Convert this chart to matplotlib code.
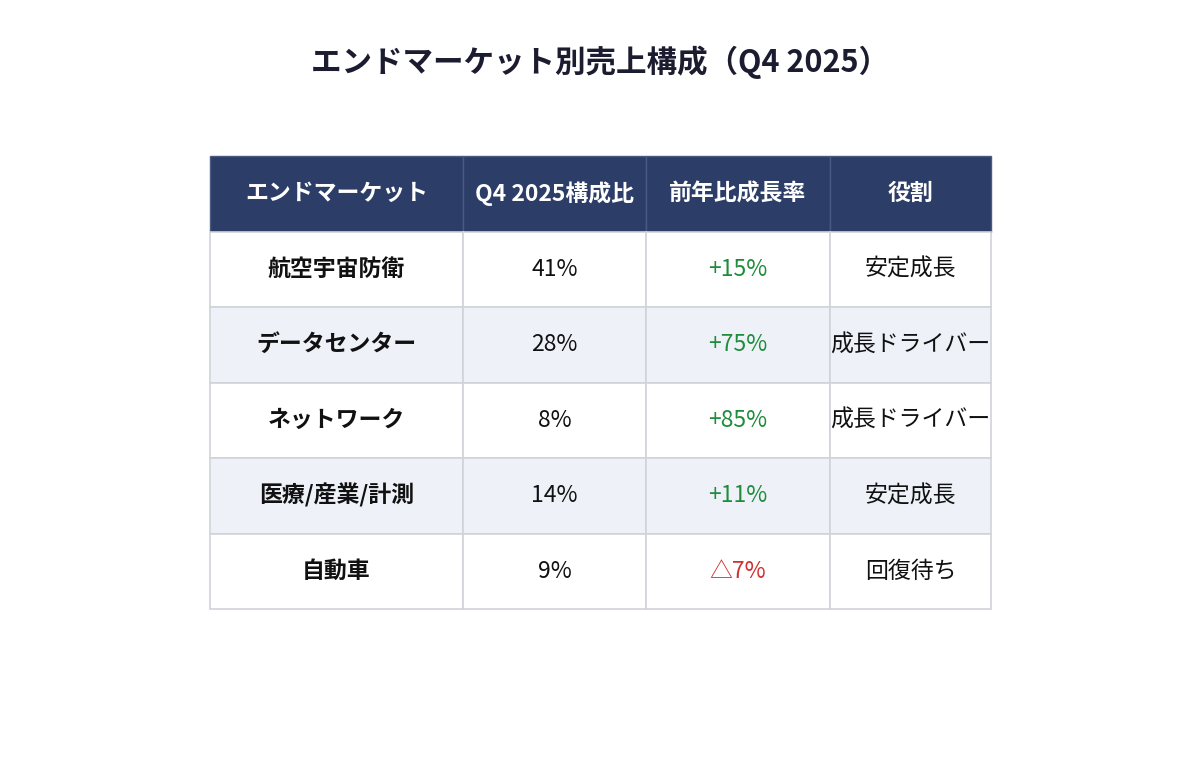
import matplotlib
matplotlib.use("Agg")
import matplotlib.pyplot as plt
from matplotlib.patches import Rectangle

plt.rcParams['font.family'] = ['Noto Sans CJK JP', 'DejaVu Sans']

# データ
title = 'エンドマーケット別売上構成（Q4 2025）'
headers = ['エンドマーケット', 'Q4 2025構成比', '前年比成長率', '役割']
markets = ['航空宇宙防衛', 'データセンター', 'ネットワーク', '医療/産業/計測', '自動車']
shares = ['41%', '28%', '8%', '14%', '9%']
growth = ['+15%', '+75%', '+85%', '+11%', '△7%']
roles = ['安定成長', '成長ドライバー', '成長ドライバー', '安定成長', '回復待ち']

# レイアウト (ピクセル)
col_w = [253, 183, 184, 161]
x0 = 210
y0 = 156
row_h = 75.5
header_c = '#2c3d68'
alt_c = '#eef2f8'
line_c = '#d0d3d8'
green = '#1e8c3a'
red = '#d0302f'
fs = 16.5

fig = plt.figure(figsize=(12, 7.64), dpi=100)
ax = fig.add_axes([0, 0, 1, 1])
ax.set_xlim(0, 1200)
ax.set_ylim(764, 0)
ax.axis('off')

ax.text(600, 62, title, ha='center', va='center', fontsize=22,
        fontweight='bold', color='#1c1c30')

xs = [x0]
for w in col_w:
    xs.append(xs[-1] + w)

# ヘッダー
for j, h in enumerate(headers):
    ax.add_patch(Rectangle((xs[j], y0), col_w[j], row_h, facecolor=header_c,
                           edgecolor='#4a5a80', lw=1))
    ax.text(xs[j] + col_w[j] / 2, y0 + row_h / 2, h, ha='center', va='center',
            fontsize=fs, fontweight='bold', color='white')

# 本体
for i in range(len(markets)):
    y = y0 + row_h * (i + 1)
    bg = alt_c if i % 2 == 1 else 'white'
    cells = [markets[i], shares[i], growth[i], roles[i]]
    for j, val in enumerate(cells):
        ax.add_patch(Rectangle((xs[j], y), col_w[j], row_h, facecolor=bg,
                               edgecolor=line_c, lw=1.2))
        color = '#111111'
        weight = 'normal'
        if j == 0:
            weight = 'bold'
        if j == 2:
            color = red if val.startswith('△') else green
        ax.text(xs[j] + col_w[j] / 2, y + row_h / 2, val, ha='center',
                va='center', fontsize=fs, fontweight=weight, color=color)

fig.savefig('out.png', dpi=100)
